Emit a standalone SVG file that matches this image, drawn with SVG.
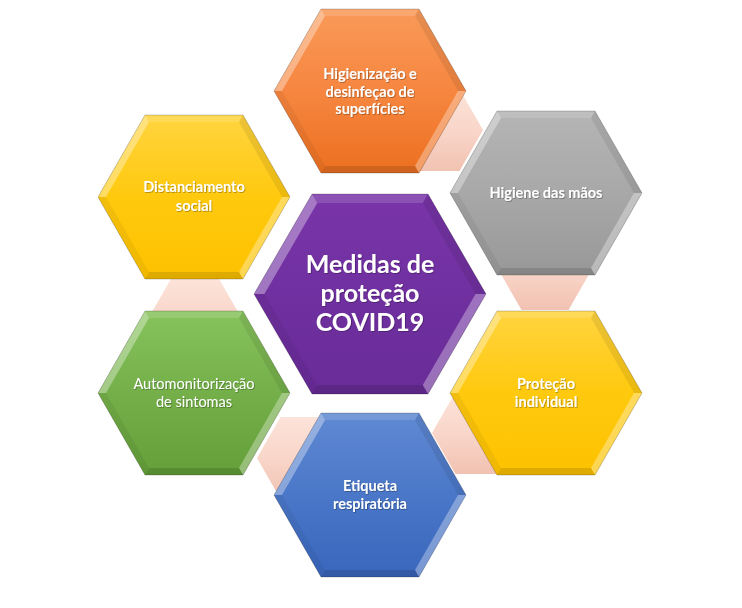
<svg xmlns="http://www.w3.org/2000/svg" xmlns:xlink="http://www.w3.org/1999/xlink" width="742" height="608" viewBox="0 0 742 608">
  <defs>
    <style>
      .lbl { font-family: Lato, "Liberation Sans", sans-serif; font-size: 14.5px; font-weight: bold; fill: #ffffff; text-anchor: middle; filter: url(#tshadow); }
      .reg { font-weight: normal; }
      .big { font-size: 25px; }
      .edge { fill: none; stroke: #000000; stroke-opacity: 0.2; stroke-width: 1; }
      .fTop { fill: #ffffff; fill-opacity: 0.14; }
      .fUR { fill: #000000; fill-opacity: 0.08; }
      .fLR { fill: #ffffff; fill-opacity: 0.32; }
      .fBot { fill: #000000; fill-opacity: 0.12; }
      .fLL { fill: #000000; fill-opacity: 0.05; }
      .fUL { fill: #ffffff; fill-opacity: 0.34; }
      .conn { fill: url(#gPeach); }
    </style>
    <filter id="tshadow" x="-10%" y="-30%" width="130%" height="160%">
      <feDropShadow dx="0.8" dy="0.8" stdDeviation="0.5" flood-color="#000000" flood-opacity="0.35"/>
    </filter>
    <linearGradient id="gPeach" x1="0" y1="0" x2="0" y2="1">
      <stop offset="0" stop-color="#FCE3D9"/>
      <stop offset="0.5" stop-color="#F9D6C9"/>
      <stop offset="1" stop-color="#F1C2B2"/>
    </linearGradient>
    <linearGradient id="gOrange" x1="0" y1="0" x2="0" y2="1">
      <stop offset="0" stop-color="#F99A59"/>
      <stop offset="0.5" stop-color="#F68640"/>
      <stop offset="1" stop-color="#EC7020"/>
    </linearGradient>
    <linearGradient id="gGray" x1="0" y1="0" x2="0" y2="1">
      <stop offset="0" stop-color="#B5B5B5"/>
      <stop offset="0.5" stop-color="#A8A8A8"/>
      <stop offset="1" stop-color="#989898"/>
    </linearGradient>
    <linearGradient id="gYellow" x1="0" y1="0" x2="0" y2="1">
      <stop offset="0" stop-color="#FFD43F"/>
      <stop offset="0.5" stop-color="#FFC90E"/>
      <stop offset="1" stop-color="#FDC200"/>
    </linearGradient>
    <linearGradient id="gBlue" x1="0" y1="0" x2="0" y2="1">
      <stop offset="0" stop-color="#6089D2"/>
      <stop offset="0.5" stop-color="#4A77C8"/>
      <stop offset="1" stop-color="#3A66BC"/>
    </linearGradient>
    <linearGradient id="gGreen" x1="0" y1="0" x2="0" y2="1">
      <stop offset="0" stop-color="#87C35D"/>
      <stop offset="0.5" stop-color="#74AF49"/>
      <stop offset="1" stop-color="#649F39"/>
    </linearGradient>
    <linearGradient id="gPurple" x1="0" y1="0" x2="0" y2="1">
      <stop offset="0" stop-color="#7935A8"/>
      <stop offset="0.5" stop-color="#7030A0"/>
      <stop offset="1" stop-color="#692C98"/>
    </linearGradient>
    <polygon id="hexO" points="-96,0 -49,-82 49,-82 96,0 49,82 -49,82"/>
    <polygon id="hexC" points="-47,0 -23.5,-41 23.5,-41 47,0 23.5,41 -23.5,41"/>
    <g id="bevel">
      <polygon class="fTop" points="-49,-82 49,-82 45,-75 -45,-75"/>
      <polygon class="fUR" points="49,-82 96,0 88,0 45,-75"/>
      <polygon class="fLR" points="96,0 49,82 45,75 88,0"/>
      <polygon class="fBot" points="49,82 -49,82 -45,75 45,75"/>
      <polygon class="fLL" points="-49,82 -96,0 -88,0 -45,75"/>
      <polygon class="fUL" points="-96,0 -49,-82 -45,-75 -88,0"/>
      <polygon class="edge" points="-96,0 -49,-82 49,-82 96,0 49,82 -49,82"/>
    </g>
  </defs>

  <rect x="0" y="0" width="742" height="608" fill="#ffffff"/>

  <g id="connectors">
    <use href="#hexC" class="conn" transform="translate(436,130)"/>
    <use href="#hexC" class="conn" transform="translate(545,269)"/>
    <use href="#hexC" class="conn" transform="translate(479,433)"/>
    <use href="#hexC" class="conn" transform="translate(304,458)"/>
    <use href="#hexC" class="conn" transform="translate(195,319)"/>
  </g>

  <g id="node-center">
    <polygon fill="url(#gPurple)" points="254,294 312,194 428,194 486,294 428,394 312,394"/>
    <polygon class="fTop" points="312,194 428,194 422.8,203 317.2,203"/>
    <polygon class="fUR" points="428,194 486,294 475.6,294 422.8,203"/>
    <polygon class="fLR" points="486,294 428,394 422.8,385 475.6,294"/>
    <polygon class="fBot" points="428,394 312,394 317.2,385 422.8,385"/>
    <polygon class="fLL" points="312,394 254,294 264.4,294 317.2,385"/>
    <polygon class="fUL" points="254,294 312,194 317.2,203 264.4,294"/>
    <polygon class="edge" points="254,294 312,194 428,194 486,294 428,394 312,394"/>
    <text class="lbl big" x="370" y="273">Medidas de</text>
    <text class="lbl big" x="370" y="302">proteção</text>
    <text class="lbl big" x="370" y="331">COVID19</text>
  </g>

  <g id="node-higienizacao" transform="translate(370,91)">
    <use href="#hexO" fill="url(#gOrange)"/>
    <use href="#bevel"/>
    <text class="lbl" x="0" y="-12">Higienização e</text>
    <text class="lbl" x="0" y="6">desinfeçao de</text>
    <text class="lbl" x="0" y="23">superfícies</text>
  </g>

  <g id="node-maos" transform="translate(546,193)">
    <use href="#hexO" fill="url(#gGray)"/>
    <use href="#bevel"/>
    <text class="lbl" x="0" y="5">Higiene das mãos</text>
  </g>

  <g id="node-protecao" transform="translate(546,393)">
    <use href="#hexO" fill="url(#gYellow)"/>
    <use href="#bevel"/>
    <text class="lbl" x="0" y="-4">Proteção</text>
    <text class="lbl" x="0" y="14">individual</text>
  </g>

  <g id="node-etiqueta" transform="translate(370,495)">
    <use href="#hexO" fill="url(#gBlue)"/>
    <use href="#bevel"/>
    <text class="lbl" x="0" y="-4">Etiqueta</text>
    <text class="lbl" x="0" y="14">respiratória</text>
  </g>

  <g id="node-automonitorizacao" transform="translate(194,393)">
    <use href="#hexO" fill="url(#gGreen)"/>
    <use href="#bevel"/>
    <text class="lbl reg" x="0" y="-4">Automonitorização</text>
    <text class="lbl reg" x="0" y="14">de sintomas</text>
  </g>

  <g id="node-distanciamento" transform="translate(194,197)">
    <use href="#hexO" fill="url(#gYellow)"/>
    <use href="#bevel"/>
    <text class="lbl" x="0" y="-5">Distanciamento</text>
    <text class="lbl" x="0" y="14">social</text>
  </g>
</svg>
